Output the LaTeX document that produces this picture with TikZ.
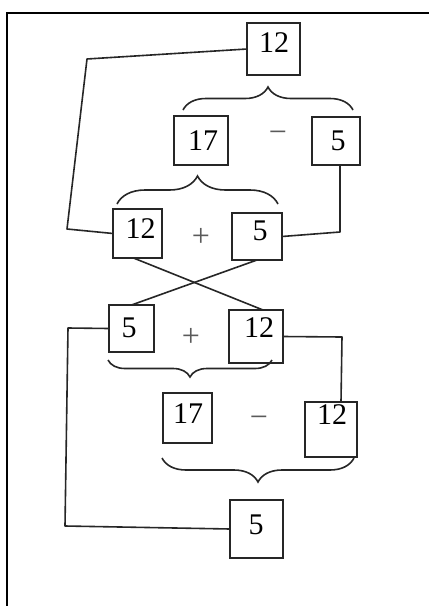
\documentclass[tikz,border=0pt]{standalone}
\usepackage{fontspec}
\setmainfont{Liberation Serif}
\usetikzlibrary{decorations.pathreplacing}
\definecolor{ink}{HTML}{262626}
\definecolor{softink}{HTML}{5A5A5A}
\begin{document}
\begin{tikzpicture}[x=1pt,y=-1pt,
  boxst/.style={draw=ink,line width=1.6pt,inner sep=0pt,outer sep=0pt},
  numst/.style={inner sep=0pt,font=\fontsize{30}{36}\selectfont,text=black},
  opst/.style={inner sep=0pt,font=\fontsize{32}{36}\selectfont,text=softink},
  wire/.style={draw=ink,line width=1.6pt,line join=round},
  bracest/.style={draw=ink,line width=1.6pt,decorate,decoration={brace,amplitude=#1}}]
\useasboundingbox (0,0) rectangle (429,606);
\fill[white] (0,0) rectangle (429,606);
% frame
\draw[line width=2pt,black] (7,606) -- (7,12.5) -- (429,12.5);
% boxes
\node[boxst,minimum width=53,minimum height=52] (t12) at (273.5,49) {};
\node[boxst,minimum width=54,minimum height=49] (a17) at (201,140.5) {};
\node[boxst,minimum width=48,minimum height=48] (a5) at (336,141) {};
\node[boxst,minimum width=49,minimum height=49] (b12) at (137.5,233.5) {};
\node[boxst,minimum width=50,minimum height=47] (b5) at (257,236.5) {};
\node[boxst,minimum width=45,minimum height=47] (c5) at (131.5,328.5) {};
\node[boxst,minimum width=54,minimum height=53] (c12) at (256,336.5) {};
\node[boxst,minimum width=49,minimum height=50] (d17) at (187.5,418) {};
\node[boxst,minimum width=52,minimum height=55] (d12) at (331,429.5) {};
\node[boxst,minimum width=53,minimum height=58] (e5) at (256.5,529) {};
% numbers
\node[numst] (t12t) at (274,42.5) {12};
\node[numst] (a17t) at (203,141) {17};
\node[numst] (a5t) at (338,141) {5};
\node[numst] (b12t) at (140.5,229) {12};
\node[numst] (b5t) at (260,231) {5};
\node[numst] (c5t) at (129,328) {5};
\node[numst] (c12t) at (259,328) {12};
\node[numst] (d17t) at (188,414) {17};
\node[numst] (d12t) at (332,415) {12};
\node[numst] (e5t) at (256,525) {5};
% operators
\node[opst] (aop) at (278,137) {−};
\node[opst] (bop) at (201,237) {+};
\node[opst] (cop) at (191,337) {+};
\node[opst] (dop) at (259,422) {−};
% braces
\draw[bracest=23pt] (183,110) -- (353,110);
\draw[bracest=28pt] (117,204) -- (278,204);
\draw[bracest=17pt] (272,360) -- (108,360);
\draw[bracest=24pt] (354,458) -- (162,458);
% connectors
\draw[wire] (t12.west) -- (87,59) -- (67,229) -- (b12.west);
\draw[wire] ([xshift=4pt]a5.south) -- (340,232) -- (b5.east);
\draw[wire] ([xshift=-4pt]b12.south) -- ([xshift=7pt]c12.north);
\draw[wire] (b5.south) -- (c5.north);
\draw[wire] (c12.east) -- (342,337) -- ([xshift=10pt]d12.north);
\draw[wire] (c5.west) -- (68,328) -- (65,526) -- (e5.west);
\end{tikzpicture}
\end{document}
